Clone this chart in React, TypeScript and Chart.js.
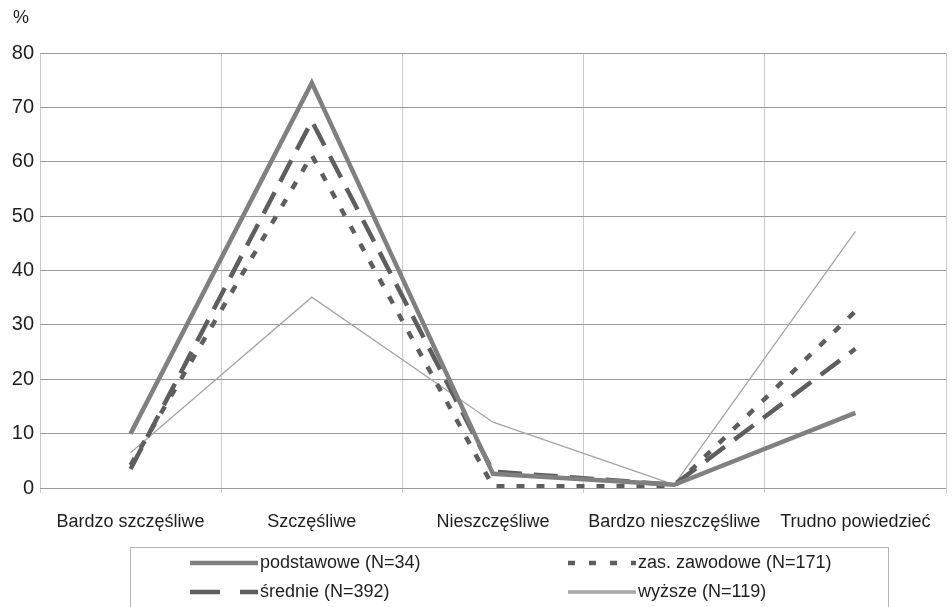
import React, { useEffect, useRef } from "react";
import { Chart, registerables } from "chart.js";

Chart.register(...registerables);

const categories = [
  "Bardzo szczęśliwe",
  "Szczęśliwe",
  "Nieszczęśliwe",
  "Bardzo nieszczęśliwe",
  "Trudno powiedzieć",
];
const seriesNames = [
  "podstawowe (N=34)",
  "średnie (N=392)",
  "zas. zawodowe (N=171)",
  "wyższe (N=119)",
];
const podstawowe = [10, 74.5, 2.6, 0.6, 13.8];
const srednie = [3.5, 67.5, 3.0, 0.6, 25.6];
const zasZawodowe = [4.2, 61.2, 0.3, 0.3, 32.5];
const wyzsze = [6.5, 35.1, 12.1, 0.6, 47.2];
const yMin = 0;
const yMax = 80;
const yStep = 10;
const yUnit = "%";

const FONT = "'Liberation Sans', Arial, sans-serif";

const legendStyles = [
  { color: "#808080", width: 4.5, dash: [] as number[] },
  { color: "#5e5e5e", width: 4.5, dash: [30, 20] },
  { color: "#5e5e5e", width: 4.5, dash: [7, 14] },
  { color: "#a6a6a6", width: 3.5, dash: [] as number[] },
];

const extrasPlugin = {
  id: "extras",
  afterDraw(chart: any) {
    const ctx = chart.ctx as CanvasRenderingContext2D;
    ctx.save();
    ctx.fillStyle = "#1e1e1e";
    ctx.font = `18px ${FONT}`;
    ctx.textBaseline = "middle";
    ctx.textAlign = "left";
    ctx.fillText(yUnit, 13, 18);

    ctx.strokeStyle = "#b5b5b5";
    ctx.lineWidth = 1;
    ctx.strokeRect(130.5, 547.5, 758, 70);

    const pos = [
      { x: 190, y: 563 },
      { x: 190, y: 592 },
      { x: 568, y: 563 },
      { x: 568, y: 592 },
    ];
    chart.data.datasets.forEach((ds: any, i: number) => {
      const p = pos[i];
      const st = legendStyles[i];
      ctx.beginPath();
      ctx.setLineDash(st.dash);
      ctx.strokeStyle = st.color;
      ctx.lineWidth = st.width;
      ctx.lineCap = "butt";
      ctx.moveTo(p.x, p.y);
      ctx.lineTo(p.x + 68, p.y);
      ctx.stroke();
      ctx.setLineDash([]);
      ctx.fillStyle = "#1e1e1e";
      ctx.font = `18px ${FONT}`;
      ctx.textAlign = "left";
      ctx.textBaseline = "middle";
      ctx.fillText(ds.label, p.x + 70, p.y);
    });
    ctx.restore();
  },
};

export default function App() {
  const ref = useRef<HTMLCanvasElement | null>(null);

  useEffect(() => {
    if (!ref.current) return;
    const chart = new Chart(ref.current, {
      type: "line",
      data: {
        labels: categories,
        datasets: [
          {
            label: seriesNames[0],
            data: podstawowe,
            borderColor: "#808080",
            borderWidth: 4.5,
            pointRadius: 0,
            tension: 0,
          },
          {
            label: seriesNames[1],
            data: srednie,
            borderColor: "#5e5e5e",
            borderWidth: 4.5,
            borderDash: [24, 12],
            pointRadius: 0,
            tension: 0,
          },
          {
            label: seriesNames[2],
            data: zasZawodowe,
            borderColor: "#5e5e5e",
            borderWidth: 4.5,
            borderDash: [8, 12],
            pointRadius: 0,
            tension: 0,
          },
          {
            label: seriesNames[3],
            data: wyzsze,
            borderColor: "#a6a6a6",
            borderWidth: 1.3,
            pointRadius: 0,
            tension: 0,
          },
        ],
      },
      options: {
        responsive: false,
        animation: false,
        layout: { padding: { top: 53, right: 6, left: 0, bottom: 0 } },
        plugins: {
          legend: { display: false },
          tooltip: { enabled: false },
        },
        scales: {
          x: {
            offset: true,
            grid: {
              offset: true,
              color: "#cccccc",
              lineWidth: 1,
              drawTicks: true,
              tickLength: 5,
            },
            border: { display: false },
            ticks: {
              autoSkip: false,
              maxRotation: 0,
              color: "#1e1e1e",
              padding: 18,
              font: { family: FONT, size: 18 },
            },
            afterFit: (scale: any) => {
              scale.height = 119;
            },
          },
          y: {
            min: yMin,
            max: yMax,
            grid: { color: "#9a9a9a", lineWidth: 1, drawTicks: false },
            border: { display: false },
            ticks: {
              stepSize: yStep,
              color: "#1e1e1e",
              padding: 6,
              font: { family: FONT, size: 20 },
            },
            afterFit: (scale: any) => {
              scale.width = 40;
            },
          },
        },
      },
      plugins: [extrasPlugin],
    });
    return () => chart.destroy();
  }, []);

  return (
    <div style={{ position: "fixed", left: 0, top: 0, width: 952, height: 607, background: "#fff" }}>
      <canvas ref={ref} width={952} height={607} style={{ display: "block" }} />
    </div>
  );
}
